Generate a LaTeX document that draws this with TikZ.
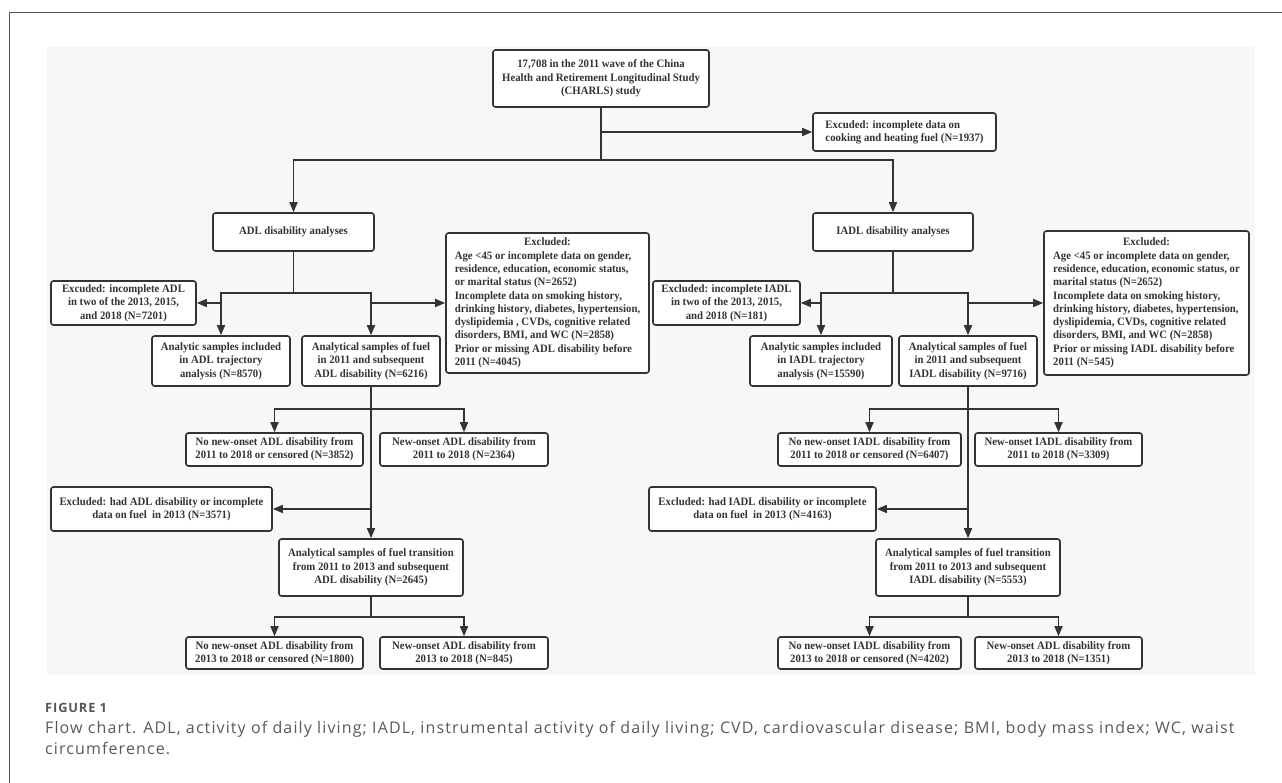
\documentclass[tikz,border=0pt]{standalone}
\usepackage{fontspec}
\usetikzlibrary{arrows.meta}
\newfontfamily\boxfont{Liberation Serif}[FakeStretch=0.95]
\newfontfamily\capfont{Open Sans}[LetterSpace=7]
\newfontfamily\figfont{Open Sans}[LetterSpace=7]
\definecolor{ln}{HTML}{333333}
\definecolor{bgc}{HTML}{F7F7F7}
\definecolor{frm}{HTML}{555555}
\definecolor{capc}{HTML}{5A5A5A}
\begin{document}
\begin{tikzpicture}[x=1pt,y=-1pt,
  box/.style={draw=ln, line width=1.6pt, rounded corners=2.5pt, fill=white, inner sep=0pt,
    font={\boxfont\bfseries\fontsize{11.33}{13.3}\selectfont}, text=ln},
  conn/.style={draw=ln, line width=1.6pt},
  arr/.style={conn, -{Triangle[length=10pt,width=8pt]}},
  captxt/.style={anchor=base west, inner sep=0pt, text=capc, font={\capfont\fontsize{16}{21}\selectfont}}
]
\useasboundingbox (0,0) rectangle (1282,783);
\fill[white] (0,0) rectangle (1282,783);
\fill[bgc] (47,47) rectangle (1255,675);
\draw[frm, line width=1.5pt] (9.5,783) -- (9.5,12.3) -- (1282,12.3);

% top
\node[box, minimum width=216pt, minimum height=57pt, align=center] (top) at (601,78.5)
  {17,708 in the 2011 wave of the China\\Health and Retirement Longitudinal Study\\(CHARLS) study};
\node[box, minimum width=183pt, minimum height=38pt, align=left] (exfuel) at (904.5,132)
  {Excuded: incomplete data on\\cooking and heating fuel (N=1937)};
\node[box, minimum width=161pt, minimum height=38pt] (adl) at (293.5,232) {ADL disability analyses};
\node[box, minimum width=160pt, minimum height=38pt] (iadl) at (893,232) {IADL disability analyses};

% ADL branch
\node[box, minimum width=145pt, minimum height=44pt, align=center] (exadl) at (123.5,303)
  {Excuded: incomplete ADL\\in two of the 2013, 2015,\\and 2018 (N=7201)};
\node[box, minimum width=138pt, minimum height=50pt, align=center] (trajadl) at (221,361)
  {Analytic samples included\\in ADL trajectory\\analysis (N=8570)};
\node[box, minimum width=138pt, minimum height=50pt, align=center] (fueladl) at (371,361)
  {Analytical samples of fuel\\in 2011 and subsequent\\ADL disability (N=6216)};
\node[box, minimum width=203pt, minimum height=140pt] (bigexadl) at (547.5,303)
  {\begin{tabular}{@{}l@{}}\multicolumn{1}{@{}c@{}}{Excluded:}\\
   Age <45 or incomplete data on gender,\\
   residence, education, economic status,\\
   or marital status (N=2652)\\
   Incomplete data on smoking history,\\
   drinking history, diabetes, hypertension,\\
   dyslipidemia , CVDs, cognitive related\\
   disorders, BMI, and WC (N=2858)\\
   Prior or missing ADL disability before\\
   2011 (N=4045)\end{tabular}};
\node[box, minimum width=177pt, minimum height=33pt, align=center] (nonewadl) at (274.5,449.5)
  {No new-onset ADL disability from\\2011 to 2018 or censored (N=3852)};
\node[box, minimum width=168pt, minimum height=33pt, align=center] (newadl) at (464,449.5)
  {New-onset ADL disability from\\2011 to 2018 (N=2364)};
\node[box, minimum width=221pt, minimum height=44pt, align=center] (exiiadl) at (161.5,509)
  {Excluded: had ADL disability or incomplete\\data on fuel\ \ in 2013 (N=3571)};
\node[box, minimum width=184pt, minimum height=57pt, align=center] (transadl) at (371,567.5)
  {Analytical samples of fuel transition\\from 2011 to 2013 and subsequent\\ADL disability (N=2645)};
\node[box, minimum width=177pt, minimum height=32pt, align=center] (nonewiiadl) at (274.5,653)
  {No new-onset ADL disability from\\2013 to 2018 or censored (N=1800)};
\node[box, minimum width=168pt, minimum height=32pt, align=center] (newiiadl) at (464,653)
  {New-onset ADL disability from\\2013 to 2018 (N=845)};

% IADL branch
\node[box, minimum width=147pt, minimum height=44pt, align=center] (exiadl) at (726.5,303)
  {Excluded: incomplete IADL\\in two of the 2013, 2015,\\and 2018 (N=181)};
\node[box, minimum width=142pt, minimum height=50pt, align=center] (trajiadl) at (821,361)
  {Analytic samples included\\in IADL trajectory\\analysis (N=15590)};
\node[box, minimum width=138pt, minimum height=50pt, align=center] (fueliadl) at (968,361)
  {Analytical samples of fuel\\in 2011 and subsequent\\IADL disability (N=9716)};
\node[box, minimum width=205pt, minimum height=144pt] (bigexiadl) at (1146.5,303)
  {\begin{tabular}{@{}l@{}}\multicolumn{1}{@{}c@{}}{Excluded:}\\
   Age <45 or incomplete data on gender,\\
   residence, education, economic status, or\\
   marital status (N=2652)\\
   Incomplete data on smoking history,\\
   drinking history, diabetes, hypertension,\\
   dyslipidemia, CVDs, cognitive related\\
   disorders, BMI, and WC (N=2858)\\
   Prior or missing IADL disability before\\
   2011 (N=545)\end{tabular}};
\node[box, minimum width=183pt, minimum height=33pt, align=center] (nonewiadl) at (869.5,449.5)
  {No new-onset IADL disability from\\2011 to 2018 or censored (N=6407)};
\node[box, minimum width=167pt, minimum height=33pt, align=center] (newiadl) at (1058.5,449.5)
  {New-onset IADL disability from\\2011 to 2018 (N=3309)};
\node[box, minimum width=227pt, minimum height=44pt, align=center] (exiiiadl) at (762.5,509)
  {Excluded: had IADL disability or incomplete\\data on fuel\ \ in 2013 (N=4163)};
\node[box, minimum width=184pt, minimum height=57pt, align=center] (transiadl) at (968,567.5)
  {Analytical samples of fuel transition\\from 2011 to 2013 and subsequent\\IADL disability (N=5553)};
\node[box, minimum width=183pt, minimum height=32pt, align=center] (nonewiiiadl) at (869.5,653)
  {No new-onset IADL disability from\\2013 to 2018 or censored (N=4202)};
\node[box, minimum width=167pt, minimum height=32pt, align=center] (newiiiadl) at (1058.5,653)
  {New-onset ADL disability from\\2013 to 2018 (N=1351)};

% junctions
\coordinate (j1) at (601,160);
\coordinate (ja) at (293.5,293);
\coordinate (jb) at (893,293);
\coordinate (jc) at (371,409);
\coordinate (jd) at (371,617);
\coordinate (je) at (968,409);
\coordinate (jf) at (968,617);

% connectors top
\draw[conn] (top.south) -- (j1);
\draw[arr] (top.south |- exfuel.west) -- (exfuel.west);
\draw[arr] (j1) -| (adl.north);
\draw[arr] (j1) -| (iadl.north);

% ADL connectors
\draw[conn] (adl.south) -- (ja);
\draw[arr] (ja) -| (trajadl.north);
\draw[arr] (ja) -| (fueladl.north);
\draw[arr] (trajadl.north |- exadl.east) -- (exadl.east);
\draw[arr] (fueladl.north |- bigexadl.west) -- (bigexadl.west);
\draw[arr] (fueladl.south) -- (transadl.north);
\draw[arr] (jc) -| (nonewadl.north);
\draw[arr] (jc) -| (newadl.north);
\draw[arr] (fueladl.south |- exiiadl.east) -- (exiiadl.east);
\draw[conn] (transadl.south) -- (jd);
\draw[arr] (jd) -| (nonewiiadl.north);
\draw[arr] (jd) -| (newiiadl.north);

% IADL connectors
\draw[conn] (iadl.south) -- (jb);
\draw[arr] (jb) -| (trajiadl.north);
\draw[arr] (jb) -| (fueliadl.north);
\draw[arr] (trajiadl.north |- exiadl.east) -- (exiadl.east);
\draw[arr] (fueliadl.north |- bigexiadl.west) -- (bigexiadl.west);
\draw[arr] (fueliadl.south) -- (transiadl.north);
\draw[arr] (je) -| (nonewiadl.north);
\draw[arr] (je) -| (newiadl.north);
\draw[arr] (fueliadl.south |- exiiiadl.east) -- (exiiiadl.east);
\draw[conn] (transiadl.south) -- (jf);
\draw[arr] (jf) -| (nonewiiiadl.north);
\draw[arr] (jf) -| (newiiiadl.north);

% caption
\node[anchor=base west, inner sep=0pt, text=frm, font={\figfont\bfseries\fontsize{12.8}{14}\selectfont}] (fig) at (45,712) {FIGURE 1};
\node[captxt] (cap1) at (45,733) {Flow chart. ADL, activity of daily living; IADL, instrumental activity of daily living; CVD, cardiovascular disease; BMI, body mass index; WC, waist};
\node[captxt] (cap2) at (45,754) {circumference.};
\end{tikzpicture}
\end{document}
